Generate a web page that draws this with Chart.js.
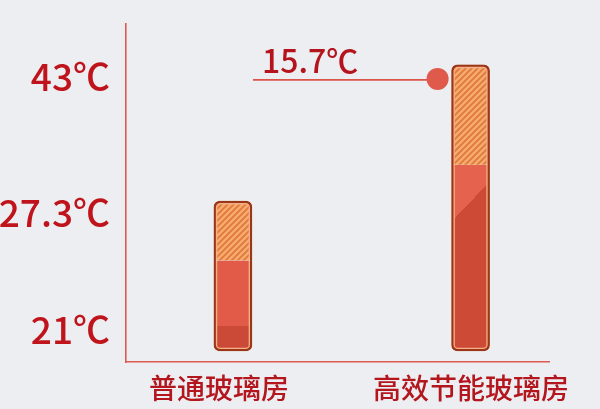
<!DOCTYPE html>
<html>
<head>
<meta charset="utf-8">
<script src="https://cdn.jsdelivr.net/npm/chart.js@4.4.1/dist/chart.umd.min.js"></script>
<style>
  html, body { margin: 0; padding: 0; background: #eceef2; }
  #wrap { width: 600px; height: 409px; position: relative; }
</style>
</head>
<body>
<div id="wrap"><canvas id="c"></canvas></div>
<script>
// ---- data ----
const categories = ['普通玻璃房', '高效节能玻璃房'];
const temperatures = [27.3, 43];          // bar tops (℃)
const hatchStart = [24.1, 31.5];          // where the hatched cap begins (estimated)
const barBase = 20.25;                     // bar foot (estimated, just below 21℃)
const tickValues = [21, 27.3, 43];
const tickUnit = '℃';

// axis with breaks: value -> fraction of plot height (infographic, non-linear)
const axisBreaks = [[20, 0], [21, 0.130], [27.3, 0.476], [43, 0.879], [45, 1]];

class BrokenLinearScale extends Chart.LinearScale {
  getPixelForValue(value) {
    const k = axisBreaks;
    let f;
    if (value <= k[0][0]) f = k[0][1];
    else if (value >= k[k.length - 1][0]) f = k[k.length - 1][1];
    else {
      for (let i = 1; i < k.length; i++) {
        if (value <= k[i][0]) {
          const [v0, f0] = k[i - 1], [v1, f1] = k[i];
          f = f0 + (f1 - f0) * (value - v0) / (v1 - v0);
          break;
        }
      }
    }
    return this.bottom - f * (this.bottom - this.top);
  }
  getValueForPixel(pixel) {
    const k = axisBreaks;
    const f = (this.bottom - pixel) / (this.bottom - this.top);
    for (let i = 1; i < k.length; i++) {
      if (f <= k[i][1]) {
        const [v0, f0] = k[i - 1], [v1, f1] = k[i];
        return v0 + (v1 - v0) * (f - f0) / (f1 - f0);
      }
    }
    return k[k.length - 1][0];
  }
}
BrokenLinearScale.id = 'brokenLinear';
BrokenLinearScale.defaults = Chart.LinearScale.defaults;
Chart.register(BrokenLinearScale);

const canvas = document.getElementById('c');
const ctx2d = canvas.getContext('2d');

function makeHatch() {
  const s = 6;
  const c = document.createElement('canvas');
  c.width = s; c.height = s;
  const g = c.getContext('2d');
  g.fillStyle = '#f5ab70';
  g.fillRect(0, 0, s, s);
  g.strokeStyle = '#e2773a';
  g.lineWidth = 1.7;
  g.beginPath();
  g.moveTo(-1, s + 1); g.lineTo(s + 1, -1);
  g.moveTo(-1, 1); g.lineTo(1, -1);
  g.moveTo(s - 1, s + 1); g.lineTo(s + 1, s - 1);
  g.stroke();
  return ctx2d.createPattern(c, 'repeat');
}
const hatchPattern = makeHatch();

// shading of the solid part: boundary offsets below the hatch start (left, right), in px
const shading = [
  { dl: 65, dr: 65, light: '#e25b48', dark: '#cb4a37' },
  { dl: 57, dr: 17, light: '#e4624e', dark: '#cd4a36' }
];

function solidFill(c) {
  const chart = c.chart;
  if (!chart.chartArea || c.dataIndex === undefined) return '#e05a47';
  const xs = chart.scales.x, ys = chart.scales.y;
  const i = c.dataIndex;
  const sh = shading[i];
  const cx = xs.getPixelForValue(i);
  const half = 19;
  const ySplit = ys.getPixelForValue(hatchStart[i]);
  const ax = cx - half, ay = ySplit + sh.dl;
  const bx = cx + half, by = ySplit + sh.dr;
  let nx = ay - by, ny = bx - ax;
  const len = Math.hypot(nx, ny);
  nx /= len; ny /= len;
  const mx = (ax + bx) / 2, my = (ay + by) / 2;
  const R = 300;
  const g = chart.ctx.createLinearGradient(mx - nx * R, my - ny * R, mx + nx * R, my + ny * R);
  g.addColorStop(0, sh.light);
  g.addColorStop(0.5, sh.light);
  g.addColorStop(0.5, sh.dark);
  g.addColorStop(1, sh.dark);
  return g;
}

const idx = categories.map((_, i) => i);

const annotation = {
  id: 'diffNote',
  afterDatasetsDraw(chart) {
    const { ctx } = chart;
    const xs = chart.scales.x, ys = chart.scales.y;
    const yLine = ys.getPixelForValue(temperatures[1]) + 15;
    const x0 = xs.getPixelForValue(0) + 20;
    const cx = xs.getPixelForValue(1) - 33;
    ctx.save();
    ctx.strokeStyle = '#dc5548';
    ctx.lineWidth = 1.6;
    ctx.beginPath();
    ctx.moveTo(x0, yLine);
    ctx.lineTo(cx, yLine);
    ctx.stroke();
    ctx.fillStyle = '#e05a4b';
    ctx.beginPath();
    ctx.arc(cx, yLine - 1, 11, 0, Math.PI * 2);
    ctx.fill();
    ctx.fillStyle = '#b5141c';
    ctx.font = '500 32px "Noto Sans CJK SC"';
    ctx.textAlign = 'left';
    ctx.textBaseline = 'alphabetic';
    const diff = (temperatures[1] - temperatures[0]).toFixed(1) + tickUnit;
    ctx.fillText(diff, x0 + 9, yLine - 7);
    ctx.restore();
  }
};

new Chart(canvas, {
  type: 'bar',
  data: {
    datasets: [
      {
        label: 'outline',
        order: 0,
        xAxisID: 'x', yAxisID: 'y',
        data: idx.map(i => ({ x: i, y: [barBase, temperatures[i]] })),
        backgroundColor: 'rgba(0,0,0,0)',
        borderColor: '#9a3718',
        borderWidth: 1.6,
        borderRadius: 6,
        borderSkipped: false,
        barThickness: 38,
        grouped: false
      },
      {
        label: 'cap',
        order: 1,
        xAxisID: 'x', yAxisID: 'y',
        data: idx.map(i => ({ x: i, y: [hatchStart[i], temperatures[i]] })),
        backgroundColor: hatchPattern,
        borderColor: '#f6ae86',
        borderWidth: 3.6,
        borderRadius: 6,
        borderSkipped: 'bottom',
        barThickness: 38,
        grouped: false
      },
      {
        label: 'body',
        order: 1,
        xAxisID: 'x', yAxisID: 'y',
        data: idx.map(i => ({ x: i, y: [barBase, hatchStart[i]] })),
        backgroundColor: solidFill,
        borderColor: '#f6ae86',
        borderWidth: 3.6,
        borderRadius: 6,
        borderSkipped: 'top',
        barThickness: 38,
        grouped: false
      }
    ]
  },
  options: {
    responsive: true,
    maintainAspectRatio: false,
    animation: false,
    layout: { padding: { top: 24, right: 51, left: 0, bottom: 0 } },
    plugins: { legend: { display: false }, tooltip: { enabled: false } },
    scales: {
      x: {
        type: 'linear',
        display: false,
        offset: false,
        bounds: 'data',
        min: -0.45,
        max: 1.33
      },
      xl: {
        type: 'linear',
        position: 'bottom',
        offset: false,
        bounds: 'data',
        min: -0.369,
        max: 1.31,
        grid: { display: false, drawTicks: false, offset: false },
        border: { display: true, color: '#dd5a50', width: 1.6 },
        afterBuildTicks: s => { s.ticks = idx.map(v => ({ value: v })); },
        afterFit: s => { s.height = 47; s.paddingLeft = 0; s.paddingRight = 0; },
        ticks: {
          autoSkip: false,
          maxRotation: 0,
          padding: 10,
          color: '#b3161d',
          font: { family: '"Noto Sans CJK SC"', size: 28, weight: '500' },
          callback: v => categories[v]
        }
      },
      y: {
        type: 'brokenLinear',
        min: 20,
        max: 45,
        grid: { display: false, drawTicks: false },
        border: { display: true, color: '#dd5a50', width: 1.6 },
        afterBuildTicks: s => { s.ticks = tickValues.map(v => ({ value: v })); },
        afterFit: s => { s.width = 126; s.paddingTop = 0; s.paddingBottom = 0; },
        ticks: {
          autoSkip: false,
          padding: 16,
          labelOffset: 12,
          color: '#c0141c',
          font: { family: '"Noto Sans CJK SC"', size: 37, weight: '500' },
          callback: v => v + tickUnit
        }
      }
    }
  },
  plugins: [annotation]
});
</script>
</body>
</html>
